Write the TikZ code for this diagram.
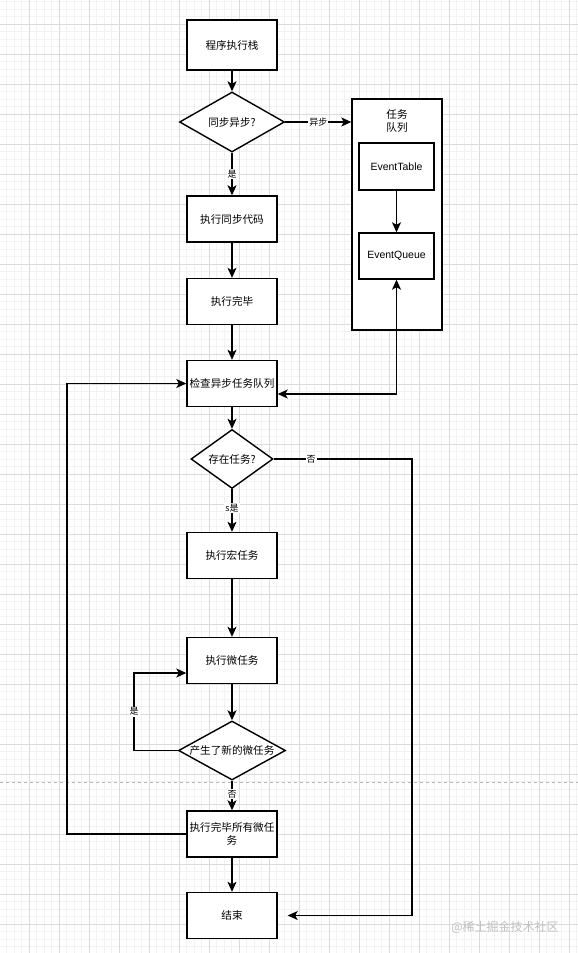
\documentclass[tikz,border=0pt]{standalone}
\usepackage{fontspec}
\setmainfont{Liberation Sans}
\newfontfamily\cjk{Noto Sans CJK SC}
\usetikzlibrary{shapes.geometric,arrows.meta}
\begin{document}
\begin{tikzpicture}[x=1pt,y=-1pt,
  minorgrid/.style={draw=gray!10,line width=0.5pt},
  majorgrid/.style={draw=gray!28,line width=0.6pt},
  box/.style={draw,line width=1.4pt,fill=white,minimum width=90pt,minimum height=46pt,inner sep=2pt,font=\cjk\fontsize{10.6}{13}\selectfont,align=center,text width=86pt},
  ibox/.style={draw,line width=1.4pt,fill=white,minimum width=75pt,minimum height=46pt,inner sep=0pt,font=\fontsize{10.5}{12}\selectfont},
  dia/.style={draw,diamond,line width=1.4pt,fill=white,inner sep=0pt},
  dtext/.style={font=\cjk\fontsize{10.6}{12}\selectfont},
  conn/.style={line width=1.4pt,-{Stealth[inset=2.5pt,length=10pt,width=9pt]}},
  plain/.style={line width=1.4pt},
  lbl/.style={fill=white,inner sep=1pt,font=\cjk\fontsize{9}{10}\selectfont}]
\useasboundingbox (0,0) rectangle (578,953);
\fill[white] (0,0) rectangle (578,953);
% grid
\foreach \i in {0,...,76} \draw[minorgrid] (6.5+7.5*\i,0) -- (6.5+7.5*\i,953);
\foreach \i in {0,...,126} \draw[minorgrid] (0,1.5+7.5*\i) -- (578,1.5+7.5*\i);
\foreach \i in {0,...,18} \draw[majorgrid] (29+30*\i,0) -- (29+30*\i,953);
\foreach \i in {0,...,30} \draw[majorgrid] (0,24+30*\i) -- (578,24+30*\i);
\draw[gray!55,dashed,line width=0.6pt] (0,782) -- (578,782);

% nodes
\node[box,minimum height=50pt] (b1) at (232,45) {程序执行栈};
\node[dia,minimum width=105pt,minimum height=60pt,label={[dtext]center:同步异步?}] (d1) at (232,122) {};
\node[box] (b2) at (232,219) {执行同步代码};
\node[box] (b3) at (232,301.5) {执行完毕};
\node[box] (b4) at (232,383.5) {检查异步任务队列};
\node[draw,line width=1.4pt,fill=white,minimum width=90pt,minimum height=231pt,inner sep=0pt] (queue) at (397,214.5) {};
\node[font=\cjk\fontsize{10.6}{13}\selectfont,align=center] (qt) at (397,121) {任务\\队列};
\node[ibox,minimum height=47pt] (et) at (396.5,166.5) {EventTable};
\node[ibox] (eq) at (396.5,256) {EventQueue};
\node[dia,minimum width=82pt,minimum height=59pt,label={[dtext]center:存在任务?}] (d2) at (232,459) {};
\node[box] (b5) at (232,555.5) {执行宏任务};
\node[box] (b6) at (232,660.5) {执行微任务};
\node[dia,minimum width=107pt,minimum height=59pt,label={[dtext]center:产生了新的微任务}] (d3) at (232,750.5) {};
\node[box] (b9) at (232,834) {执行完毕所有微任\\务};
\node[box] (b10) at (232,915.5) {结束};
\node[font=\cjk\fontsize{12}{13}\selectfont,text=gray!50] (wm) at (505,927) {@稀土掘金技术社区};

\coordinate (loopL) at (67,0);
\coordinate (rightX) at (412,0);
\coordinate (yesX) at (134,0);

% connectors
\draw[conn] (b1) -- (d1);
\draw[conn] (d1.east) -- node[lbl]{异步} (d1.east -| queue.west);
\draw[conn] (d1) -- node[lbl]{是} (b2);
\draw[conn] (et) -- (eq);
\draw[conn] (b2) -- (b3);
\draw[conn] (b3) -- (b4);
\draw[plain,{Stealth[inset=2.5pt,length=10pt,width=9pt]}-{Stealth[inset=2.5pt,length=10pt,width=9pt]}] (eq.south) |- ([yshift=-10.5pt]b4.east);
\draw[conn] (b9.west) -- (b9.west -| loopL) |- (b4.west);
\draw[conn] (b4) -- (d2);
\draw[conn] (d2) -- node[lbl,pos=0.45]{s是} (b5);
\draw[conn] (d2.east) -- node[lbl,pos=0.27]{否} (d2.east -| rightX) |- ([xshift=10pt]b10.east);
\draw[conn] (b5) -- (b6);
\draw[conn] (b6) -- (d3);
\draw[conn] (d3.west) -- (d3.west -| yesX) |- node[lbl,pos=0.25]{是} ([yshift=-12.5pt]b6.west);
\draw[conn] (d3) -- node[lbl,pos=0.45]{否} (b9);
\draw[conn] (b9) -- (b10);
\end{tikzpicture}
\end{document}
